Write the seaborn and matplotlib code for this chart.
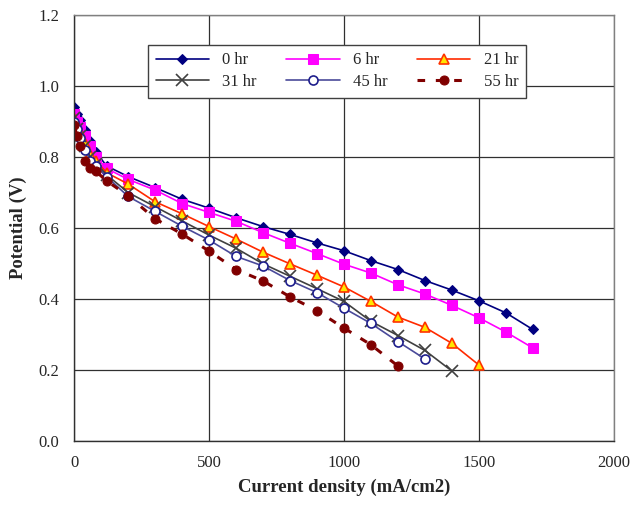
import matplotlib
matplotlib.use("Agg")
import matplotlib.pyplot as plt
import seaborn as sns
import pandas as pd

low_x = [0, 10, 20, 40, 60, 80, 120]
x_0hr = low_x + [200, 300, 400, 500, 600, 700, 800, 900, 1000, 1100, 1200, 1300, 1400, 1500, 1600, 1700]
v_0hr = [0.94, 0.92, 0.905, 0.875, 0.845, 0.815, 0.775,
         0.745, 0.714, 0.681, 0.656, 0.629, 0.604, 0.582, 0.558, 0.536, 0.508, 0.483, 0.452, 0.425, 0.395, 0.361, 0.314]
x_6hr = x_0hr
v_6hr = [0.92, 0.90, 0.885, 0.86, 0.83, 0.80, 0.768,
         0.737, 0.707, 0.669, 0.644, 0.619, 0.587, 0.557, 0.528, 0.498, 0.473, 0.440, 0.414, 0.382, 0.347, 0.307, 0.262]
x_21hr = low_x + [200, 300, 400, 500, 600, 700, 800, 900, 1000, 1100, 1200, 1300, 1400, 1500]
v_21hr = [0.91, 0.89, 0.87, 0.84, 0.81, 0.79, 0.756,
          0.724, 0.674, 0.640, 0.604, 0.569, 0.532, 0.499, 0.467, 0.434, 0.393, 0.349, 0.320, 0.275, 0.214]
x_31hr = low_x + [200, 300, 400, 500, 600, 700, 800, 900, 1000, 1100, 1200, 1300, 1400]
v_31hr = [0.91, 0.88, 0.86, 0.83, 0.80, 0.78, 0.75,
          0.700, 0.660, 0.620, 0.580, 0.543, 0.499, 0.464, 0.429, 0.393, 0.337, 0.297, 0.255, 0.197]
x_45hr = low_x + [200, 300, 400, 500, 600, 700, 800, 900, 1000, 1100, 1200, 1300]
v_45hr = [0.90, 0.88, 0.855, 0.82, 0.79, 0.775, 0.745,
          0.689, 0.647, 0.605, 0.566, 0.520, 0.493, 0.452, 0.418, 0.374, 0.331, 0.280, 0.231]
x_55hr = low_x + [200, 300, 400, 500, 600, 700, 800, 900, 1000, 1100, 1200]
v_55hr = [0.89, 0.86, 0.83, 0.79, 0.77, 0.76, 0.733,
          0.691, 0.626, 0.583, 0.535, 0.483, 0.451, 0.406, 0.367, 0.318, 0.271, 0.211]

labels = ["0 hr", "6 hr", "21 hr", "31 hr", "45 hr", "55 hr"]
xs = [x_0hr, x_6hr, x_21hr, x_31hr, x_45hr, x_55hr]
vs = [v_0hr, v_6hr, v_21hr, v_31hr, v_45hr, v_55hr]

x_ticks = [0, 500, 1000, 1500, 2000]
y_ticks = [0.0, 0.2, 0.4, 0.6, 0.8, 1.0, 1.2]

sns.set_style("white")
plt.rcParams['font.family'] = ['Liberation Serif', 'DejaVu Serif']

styles = [
    dict(color="#000080", marker="D", markersize=5.5, markerfacecolor="#000080", markeredgecolor="#000080", linewidth=1.2),
    dict(color="#FF00FF", marker="s", markersize=6.5, markerfacecolor="#FF00FF", markeredgecolor="#FF00FF", linewidth=1.2),
    dict(color="#FF2A00", marker="^", markersize=7.5, markerfacecolor="#FFE600", markeredgecolor="#FF3300", markeredgewidth=1.2, linewidth=1.2),
    dict(color="#404040", marker="x", markersize=8, markeredgecolor="#404040", markeredgewidth=1.2, linewidth=1.2),
    dict(color="#4A4A9A", marker="o", markersize=6.5, markerfacecolor="white", markeredgecolor="#1E1E8C", markeredgewidth=1.2, linewidth=1.2),
    dict(color="#800000", marker="o", markersize=6.5, markerfacecolor="#800000", markeredgecolor="#800000", linewidth=2.2, linestyle=(0, (2.5, 3.5))),
]

fig = plt.figure(figsize=(6.34, 5.05), dpi=100)
ax = fig.add_axes([0.117, 0.127, 0.851, 0.843])

for lab, x, v, st in zip(labels, xs, vs, styles):
    df = pd.DataFrame({"x": x, "v": v})
    sns.lineplot(data=df, x="x", y="v", ax=ax, label=lab, sort=False, **st)

ax.set_xlim(0, 2000)
ax.set_ylim(0, 1.2)
ax.set_xticks(x_ticks)
ax.set_yticks(y_ticks)
ax.set_yticklabels([f"{t:.1f}" for t in y_ticks])
ax.grid(True, color="#303030", linewidth=0.9)
ax.set_axisbelow(True)
for s in ax.spines.values():
    s.set_color("#808080")
    s.set_linewidth(1.0)
ax.spines["left"].set_color("#303030")
ax.spines["bottom"].set_color("#303030")
ax.tick_params(axis="both", labelsize=12, direction="out", length=5, color="#303030", pad=6)
ax.tick_params(axis="x", length=0, pad=10)
ax.set_xlabel("Current density (mA/cm2)", fontsize=13.5, fontweight="bold", labelpad=6)
ax.set_ylabel("Potential (V)", fontsize=13.5, fontweight="bold", labelpad=8)

handles, labs = ax.get_legend_handles_labels()
order = [0, 3, 1, 4, 2, 5]
leg = ax.legend([handles[i] for i in order], [labs[i] for i in order],
                loc="upper left", bbox_to_anchor=(0.137, 0.93, 0.70, 0.0), mode="expand",
                borderaxespad=0.0,
                ncol=3, fontsize=12, frameon=True, fancybox=False, framealpha=1,
                edgecolor="#404040", handlelength=3.2, borderpad=0.45, labelspacing=0.35,
                columnspacing=1.0)
leg.get_frame().set_linewidth(1.0)

fig.savefig("out.png", dpi=100)
